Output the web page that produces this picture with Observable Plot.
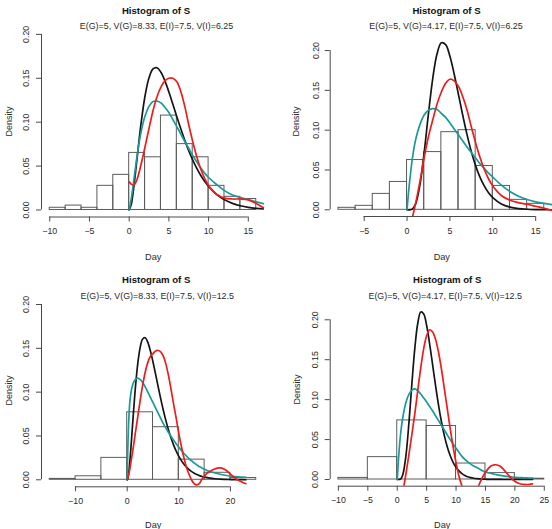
<!DOCTYPE html>
<html><head><meta charset="utf-8">
<script src="https://cdn.jsdelivr.net/npm/d3@7"></script>
<script src="https://cdn.jsdelivr.net/npm/@observablehq/plot@0.6"></script>
<style>
body{margin:0;background:#fff}
#wrap{display:grid;grid-template-columns:276px 276px;grid-template-rows:265px 264px;width:552px;height:529px}
svg{display:block}
</style>
</head><body><div id="wrap"></div>
<script>
// ---------- text ----------
const mainTitle = "Histogram of S";
const subtitles = [
  "E(G)=5, V(G)=8.33, E(I)=7.5, V(I)=6.25",
  "E(G)=5, V(G)=4.17, E(I)=7.5, V(I)=6.25",
  "E(G)=5, V(G)=8.33, E(I)=7.5, V(I)=12.5",
  "E(G)=5, V(G)=4.17, E(I)=7.5, V(I)=12.5"
];
const xLabel = "Day";
const yLabel = "Density";
const yTicks = [0, 0.05, 0.10, 0.15, 0.20];

// ---------- panel 1 ----------
const xTicks1 = [-10, -5, 0, 5, 10, 15];
const edges1 = [-10, -8, -6, -4, -2, 0, 2, 4, 6, 8, 10, 12, 14, 16];
const dens1 = [0.0025, 0.005, 0.0025, 0.0275, 0.04, 0.065, 0.06, 0.1075, 0.075, 0.06, 0.0275, 0.015, 0.0125];
const grid1 = [0, 0.25, 0.5, 0.75, 1, 1.5, 2, 2.5, 3, 3.5, 4, 4.5, 5, 5.5, 6, 6.5, 7, 7.5, 8, 8.5, 9, 9.5, 10, 11, 12, 13, 14, 15, 16, 17];
const black1 = [0, 0.0058, 0.020, 0.0387, 0.0593, 0.0988, 0.1301, 0.1506, 0.1607, 0.1620, 0.1568, 0.1470, 0.1344, 0.1205, 0.1062, 0.0924, 0.0794, 0.0675, 0.0569, 0.0476, 0.0395, 0.0326, 0.0268, 0.0178, 0.0116, 0.0075, 0.0048, 0.0030, 0.0019, 0.0012];
const cyan1 = [0, 0.012, 0.028, 0.045, 0.062, 0.089, 0.107, 0.118, 0.1235, 0.124, 0.122, 0.117, 0.111, 0.103, 0.095, 0.0865, 0.078, 0.070, 0.062, 0.055, 0.048, 0.042, 0.037, 0.029, 0.022, 0.017, 0.0142, 0.0118, 0.0093, 0.007];
const red1 = [0.032, 0.0295, 0.0285, 0.030, 0.035, 0.052, 0.072, 0.093, 0.113, 0.129, 0.140, 0.147, 0.150, 0.150, 0.146, 0.135, 0.118, 0.097, 0.078, 0.061, 0.047, 0.036, 0.028, 0.018, 0.0135, 0.0125, 0.0125, 0.0115, 0.0075, 0.002];

// ---------- panel 2 ----------
const xTicks2 = [-5, 0, 5, 10, 15];
const edges2 = [-8, -6, -4, -2, 0, 2, 4, 6, 8, 10, 12, 14, 16];
const dens2 = [0.0025, 0.005, 0.02, 0.035, 0.0625, 0.0725, 0.0975, 0.10, 0.055, 0.03, 0.0125, 0.0075];
const grid2 = [0, 0.2, 0.4, 0.6, 1, 1.5, 2, 2.5, 3, 3.5, 4, 4.5, 5, 5.5, 6, 6.5, 7, 7.5, 8, 8.5, 9, 9.5, 10, 11, 12, 13, 14, 15, 16, 17];
const black2 = [0, 0, 0.00016, 0.00094, 0.0075, 0.0312, 0.0722, 0.1210, 0.1652, 0.1960, 0.2097, 0.2074, 0.1928, 0.1703, 0.1445, 0.1184, 0.0941, 0.0729, 0.0552, 0.0410, 0.0300, 0.0215, 0.0153, 0.0074, 0.00345, 0.00155, 0.00068, 0.00029, 0.00012, 0.00005];
const cyan2 = [0, 0.025, 0.045, 0.063, 0.088, 0.107, 0.119, 0.125, 0.127, 0.126, 0.121, 0.116, 0.109, 0.1015, 0.094, 0.0865, 0.079, 0.072, 0.065, 0.058, 0.052, 0.046, 0.041, 0.031, 0.023, 0.017, 0.013, 0.010, 0.008, 0.0065];
const red2 = [null, null, null, -0.011, 0.008, 0.035, 0.066, 0.092, 0.113, 0.133, 0.148, 0.159, 0.164, 0.162, 0.155, 0.142, 0.125, 0.104, 0.084, 0.066, 0.051, 0.039, 0.030, 0.018, 0.012, 0.009, 0.007, 0.0045, 0.002, -0.001];

// ---------- panel 3 ----------
const xTicks3 = [-10, 0, 10, 20];
const edges3 = [-15, -10, -5, 0, 5, 10, 15, 20, 25];
const dens3 = [0.001, 0.004, 0.025, 0.077, 0.06, 0.023, 0.008, 0.002];
const grid3 = [0, 0.1, 0.25, 0.5, 0.75, 1, 1.5, 2, 2.5, 3, 3.5, 4, 4.5, 5, 5.5, 6, 6.5, 7, 7.5, 8, 8.5, 9, 9.5, 10, 10.5, 11, 11.5, 12, 12.5, 13, 13.5, 14, 14.5, 15, 15.5, 16, 17, 18, 19, 20, 21, 22, 23];
const black3 = [0, 0.001, 0.0058, 0.020, 0.0387, 0.0593, 0.0988, 0.1301, 0.1506, 0.1607, 0.1620, 0.1568, 0.1470, 0.1344, 0.1205, 0.1062, 0.0924, 0.0794, 0.0675, 0.0569, 0.0476, 0.0395, 0.0326, 0.0268, 0.0219, 0.0178, 0.0144, 0.0116, 0.0093, 0.0075, 0.0060, 0.0048, 0.0038, 0.0030, 0.0024, 0.0019, 0.0012, 0.0007, 0.00044, 0.00026, 0.00016, 0.0001, 0.00006];
const cyan3 = [0, 0.03, 0.06, 0.088, 0.100, 0.107, 0.114, 0.116, 0.1145, 0.111, 0.106, 0.100, 0.094, 0.088, 0.082, 0.076, 0.070, 0.064, 0.059, 0.054, 0.0495, 0.045, 0.041, 0.037, 0.0335, 0.030, 0.027, 0.024, 0.0215, 0.019, 0.017, 0.015, 0.0135, 0.012, 0.0107, 0.0095, 0.0078, 0.0063, 0.0052, 0.0043, 0.0037, 0.0032, 0.0028];
const red3 = [0, 0.002, 0.005, 0.012, 0.021, 0.030, 0.050, 0.070, 0.090, 0.108, 0.123, 0.134, 0.141, 0.144, 0.147, 0.1475, 0.146, 0.141, 0.132, 0.119, 0.103, 0.086, 0.070, 0.053, 0.038, 0.025, 0.014, 0.006, -0.0005, -0.0045, -0.0058, -0.004, 0.0008, 0.0045, 0.0075, 0.0095, 0.0125, 0.0135, 0.0115, 0.0065, 0.0015, -0.002, -0.0045];

// ---------- panel 4 ----------
const xTicks4 = [-10, -5, 0, 5, 10, 15, 20, 25];
const edges4 = [-10, -5, 0, 5, 10, 15, 20, 25];
const dens4 = [0.002, 0.028, 0.074, 0.067, 0.02, 0.008, 0.001];
const grid4 = [0, 0.15, 0.3, 0.5, 0.75, 1, 1.5, 2, 2.5, 3, 3.5, 4, 4.5, 5, 5.5, 6, 6.5, 7, 7.5, 8, 8.5, 9, 9.5, 10, 10.5, 11, 11.5, 12, 12.5, 13, 13.5, 14, 14.5, 15, 15.5, 16, 16.5, 17, 17.5, 18, 18.5, 19, 19.5, 20, 20.5, 21, 21.5, 22, 22.5, 23];
const black4 = [0, 0, 0.00004, 0.0004, 0.0024, 0.0075, 0.0312, 0.0722, 0.1210, 0.1652, 0.1960, 0.2097, 0.2074, 0.1928, 0.1703, 0.1445, 0.1184, 0.0941, 0.0729, 0.0552, 0.0410, 0.0300, 0.0215, 0.0153, 0.0107, 0.0074, 0.0051, 0.00345, 0.0023, 0.00155, 0.001, 0.00068, 0.00044, 0.00029, 0.0002, 0.00012, 0.00008, 0.00005, 0.00003, 0.00002, 0, 0, 0, 0, 0, 0, 0, 0, 0, 0];
const cyan4 = [0, 0.018, 0.034, 0.052, 0.068, 0.080, 0.097, 0.107, 0.112, 0.1135, 0.111, 0.107, 0.102, 0.097, 0.0915, 0.086, 0.080, 0.074, 0.068, 0.062, 0.056, 0.050, 0.0445, 0.039, 0.034, 0.029, 0.0253, 0.022, 0.0193, 0.017, 0.015, 0.013, 0.011, 0.0095, 0.0085, 0.0075, 0.0066, 0.0058, 0.0051, 0.0045, 0.004, 0.0035, 0.0031, 0.0028, 0.0025, 0.0023, 0.0021, 0.002, 0.0018, 0.0017];
const red4 = [null, null, null, null, null, -0.014, 0.008, 0.032, 0.057, 0.083, 0.112, 0.140, 0.164, 0.180, 0.1875, 0.185, 0.176, 0.160, 0.139, 0.114, 0.089, 0.064, 0.041, 0.021, 0.004, -0.008, -0.017, -0.022, -0.024, -0.020, -0.013, -0.005, 0.003, 0.009, 0.014, 0.0172, 0.0184, 0.0182, 0.0165, 0.0133, 0.009, 0.0047, 0.0008, -0.0022, -0.0043, -0.0056, -0.0062, -0.0063, -0.006, -0.0055];

// ---------- styling ----------
const FONT = "'Liberation Sans', Arial, Helvetica, sans-serif";
const COL_BLACK = "#151515", COL_CYAN = "#189a9a", COL_RED = "#f01c1c";
const AXIS = "#4a4a4a", TXT = "#2a2a2a", BAR = "#5c5c5c";
const fmtX = d3.format("d"), fmtY = d3.format(".2f");

const panels = [
  {H:265, ml:41, mr:12, mt:26.85, mb:48.5, xd:[-11.04,17.04], yd:[-0.008,0.208],
   xTicks:xTicks1, edges:edges1, dens:dens1, grid:grid1, black:black1, cyan:cyan1, red:red1, sub:subtitles[0],
   tPos:[155.5,6.5], sPos:[156,21.7], dayPos:[152.7,253], denPos:[5.5,121], ylabX:25.3, xlabY:233},
  {H:265, ml:53.7, mr:0, mt:35.4, mb:49, xd:[-8.96,16.96], yd:[-0.0084,0.2184],
   xTicks:xTicks2, edges:edges2, dens:dens2, grid:grid2, black:black2, cyan:cyan2, red:red2, sub:subtitles[1],
   tPos:[170,6.5], sPos:[169.5,21.7], dayPos:[165.3,253], denPos:[16.5,121], ylabX:39.2, xlabY:233},
  {H:264, ml:41, mr:12, mt:32, mb:42.7, xd:[-16.6,26.6], yd:[-0.008,0.208],
   xTicks:xTicks3, edges:edges3, dens:dens3, grid:grid3, black:black3, cyan:cyan3, red:red3, sub:subtitles[2],
   tPos:[155.7,10.5], sPos:[156.7,27], dayPos:[152.7,256.3], denPos:[5.5,125], ylabX:26, xlabY:238},
  {H:264, ml:53.7, mr:0, mt:39.6, mb:43.3, xd:[-11.4,26.4], yd:[-0.0084,0.2184],
   xTicks:xTicks4, edges:edges4, dens:dens4, grid:grid4, black:black4, cyan:cyan4, red:red4, sub:subtitles[3],
   tPos:[170.7,10.5], sPos:[168.7,27], dayPos:[165.7,256.3], denPos:[16.7,124], ylabX:39, xlabY:237.8}
];

function series(grid, ys) {
  return grid.map((x, i) => ({x, y: ys[i]})).filter(d => d.y !== null && d.y !== undefined);
}

function makePanel(p) {
  const bars = p.dens.map((d, i) => ({x1: p.edges[i], x2: p.edges[i + 1], y: d}));
  const lineOpts = {x: "x", y: "y", curve: "catmull-rom", strokeWidth: 1.7, clip: true};
  const label = (txt, pos, extra) => Plot.text([txt], Object.assign({
    text: d => d, frameAnchor: "top-left", dx: pos[0] - p.ml, dy: pos[1] - p.mt,
    textAnchor: "middle", fill: TXT
  }, extra));
  return Plot.plot({
    width: 276, height: p.H,
    marginLeft: p.ml, marginRight: p.mr, marginTop: p.mt, marginBottom: p.mb,
    x: {domain: p.xd}, y: {domain: p.yd},
    style: {fontFamily: FONT, background: "#fff"},
    marks: [
      Plot.rectY(bars, {x1: "x1", x2: "x2", y1: 0, y2: "y", fill: "none", stroke: BAR, strokeWidth: 1}),
      Plot.line(series(p.grid, p.black), {...lineOpts, stroke: COL_BLACK}),
      Plot.line(series(p.grid, p.cyan), {...lineOpts, stroke: COL_CYAN}),
      Plot.line(series(p.grid, p.red), {...lineOpts, stroke: COL_RED}),
      Plot.ruleY([p.yd[0]], {x1: p.xTicks[0], x2: p.xTicks[p.xTicks.length - 1], stroke: AXIS, strokeWidth: 1}),
      Plot.ruleX([p.xd[0]], {y1: yTicks[0], y2: yTicks[yTicks.length - 1], stroke: AXIS, strokeWidth: 1}),
      Plot.axisX({ticks: p.xTicks, tickSize: 5, tickFormat: () => "", label: null, stroke: AXIS}),
      Plot.axisY({ticks: yTicks, tickSize: 5, tickFormat: () => "", label: null, stroke: AXIS}),
      Plot.text(p.xTicks, {x: d => d, text: d => fmtX(d), frameAnchor: "bottom", dy: p.xlabY - (p.H - p.mb),
        fontSize: 8.8, fill: TXT, textAnchor: "middle"}),
      Plot.text(yTicks, {y: d => d, text: d => fmtY(d), frameAnchor: "left", dx: p.ylabX - p.ml,
        rotate: -90, fontSize: 8.8, fill: TXT, textAnchor: "middle"}),
      label(mainTitle, p.tPos, {fontWeight: "bold", fontSize: 9.6, fill: "#111"}),
      label(p.sub, p.sPos, {fontSize: 8.9}),
      label(xLabel, p.dayPos, {fontSize: 9.2}),
      label(yLabel, p.denPos, {fontSize: 9, rotate: -90})
    ]
  });
}

const wrap = document.getElementById("wrap");
panels.forEach(p => wrap.appendChild(makePanel(p)));
</script></body></html>
